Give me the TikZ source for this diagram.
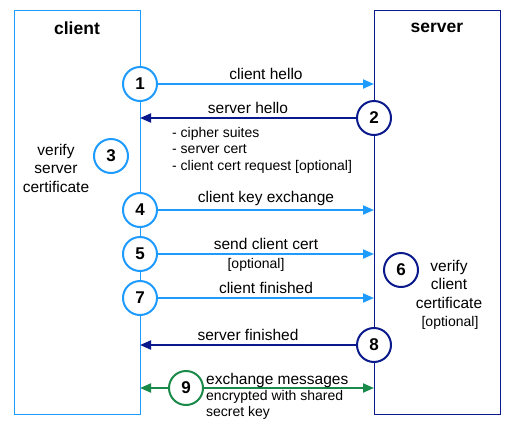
\documentclass[tikz,border=0pt]{standalone}
\usepackage{fontspec}
\setmainfont{Liberation Sans}
\usetikzlibrary{arrows.meta}
\definecolor{lb}{HTML}{1E9BFF}
\definecolor{db}{HTML}{0A1A8C}
\definecolor{gr}{HTML}{1A8A4A}
\begin{document}
\begin{tikzpicture}[x=1pt,y=-1pt,
  num/.style={circle,draw,line width=2pt,fill=white,minimum size=34pt,inner sep=0pt,font=\bfseries\fontsize{17}{17}\selectfont},
  lbl/.style={font=\fontsize{15.5}{18.5}\selectfont,inner sep=1pt},
  sm/.style={font=\fontsize{14}{16.5}\selectfont,inner sep=1pt},
  arr/.style={line width=2pt,-{Triangle[length=11pt,width=9pt]}}]
\useasboundingbox (0,0) rectangle (512,437);
\node[draw=lb,minimum width=126pt,minimum height=404pt,inner sep=0pt,anchor=north west] (cl) at (14,10) {};
\node[draw=db,minimum width=126pt,minimum height=404pt,inner sep=0pt,anchor=north west] (sv) at (374,10) {};
\node[font=\bfseries\fontsize{17.5}{17.5}\selectfont] (ct) at (77,28) {client};
\node[font=\bfseries\fontsize{17.5}{17.5}\selectfont] (st) at (437,28) {server};
\node[num,draw=lb] (n1) at (140,84) {1};
\node[num,draw=db] (n2) at (374,118) {2};
\node[num,draw=lb] (n3) at (111,156) {3};
\node[num,draw=lb] (n4) at (140,210) {4};
\node[num,draw=lb] (n5) at (140,254) {5};
\node[num,draw=db] (n6) at (401,270) {6};
\node[num,draw=lb] (n7) at (140,298) {7};
\node[num,draw=db] (n8) at (374,345) {8};
\node[num,draw=gr] (n9) at (186,388) {9};
\coordinate (e1) at (374,84);
\coordinate (e2) at (140,118);
\coordinate (e4) at (374,210);
\coordinate (e5) at (374,254);
\coordinate (e7) at (374,298);
\coordinate (e8) at (140,345);
\coordinate (e9a) at (140,388);
\coordinate (e9b) at (374,388);
\draw[arr,lb] (n1) -- (e1) node[lbl,midway,above=2pt,text=black] {client hello};
\draw[arr,db] (n2) -- (e2) node[lbl,midway,above=2pt,text=black] {server hello};
\draw[arr,lb] (n4) -- (e4) node[lbl,midway,above=2pt,text=black] {client key exchange};
\draw[arr,lb] (n5) -- (e5) node[lbl,midway,above=2pt,text=black] {send client cert};
\draw[arr,lb] (n7) -- (e7) node[lbl,midway,above=2pt,text=black] {client finished};
\draw[arr,db] (n8) -- (e8) node[lbl,midway,above=2pt,text=black] {server finished};
\draw[arr,gr] (n9) -- (e9a);
\draw[arr,gr] (n9) -- (e9b);
\node[sm,align=left,anchor=north west] (t2) at (171,126) {- cipher suites\\- server cert\\- client cert request [optional]};
\node[lbl,align=center] (t3) at (56,168) {verify\\server\\certificate};
\node[sm] (t5) at (256,265) {[optional]};
\node[lbl,align=center,anchor=north] (t6) at (449,259) {verify\\client\\certificate};
\node[sm] (t6b) at (450,323) {[optional]};
\node[lbl,anchor=west] (t9) at (205,380) {exchange messages};
\node[sm,align=left,anchor=north west] (t9b) at (205,389) {encrypted with shared\\secret key};
\end{tikzpicture}
\end{document}
